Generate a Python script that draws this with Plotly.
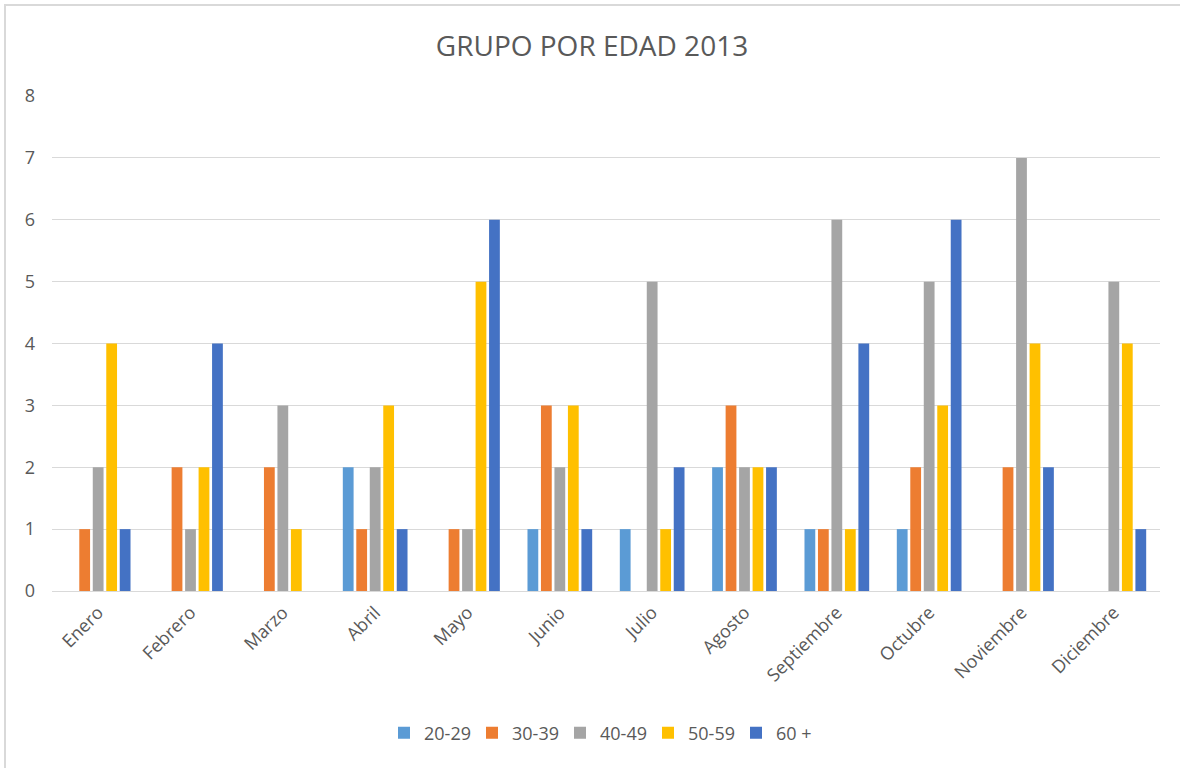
import plotly.graph_objects as go

months = ["Enero", "Febrero", "Marzo", "Abril", "Mayo", "Junio", "Julio",
          "Agosto", "Septiembre", "Octubre", "Noviembre", "Diciembre"]
g20_29 = [0, 0, 0, 2, 0, 1, 1, 2, 1, 1, 0, 0]
g30_39 = [1, 2, 2, 1, 1, 3, 0, 3, 1, 2, 2, 0]
g40_49 = [2, 1, 3, 2, 1, 2, 5, 2, 6, 5, 7, 5]
g50_59 = [4, 2, 1, 3, 5, 3, 1, 2, 1, 3, 4, 4]
g60_plus = [1, 4, 0, 1, 6, 1, 2, 2, 4, 6, 2, 1]
y_ticks = [0, 1, 2, 3, 4, 5, 6, 7, 8]

series = [
    ("20-29", g20_29, "#5B9BD5"),
    ("30-39", g30_39, "#ED7D31"),
    ("40-49", g40_49, "#A5A5A5"),
    ("50-59", g50_59, "#FFC000"),
    ("60 +", g60_plus, "#4472C4"),
]

fig = go.Figure()
for name, vals, color in series:
    fig.add_trace(go.Bar(x=months, y=vals, name=name, marker_color=color,
                         marker_line_width=0))

font_family = "Open Sans, Liberation Sans, sans-serif"
L, R, T, B = 52, 20, 96, 177
W, H = 1180, 768
pw = W - L - R
ph = H - T - B

fig.update_layout(
    width=W, height=H,
    margin=dict(l=L, r=R, t=T, b=B),
    paper_bgcolor="white", plot_bgcolor="white",
    barmode="group", bargap=0.27, bargroupgap=0.2,
    title=dict(text="GRUPO POR EDAD 2013", x=592 / W, xref="container",
               xanchor="center", y=1 - 46 / H, yref="container", yanchor="middle",
               font=dict(family=font_family, size=28, color="#595959")),
    legend=dict(orientation="h", x=(604 - L) / pw, xanchor="center",
                y=-(733 - (T + ph)) / ph, yanchor="middle",
                font=dict(family=font_family, size=18, color="#595959"),
                traceorder="normal", itemwidth=30,
                entrywidth=43, entrywidthmode="pixels"),
    font=dict(family=font_family, color="#595959"),
    showlegend=True,
)
fig.update_xaxes(tickangle=-45, tickfont=dict(size=18, color="#595959"),
                 showline=True, linecolor="#D9D9D9", linewidth=1,
                 showgrid=False, ticks="", ticklabelstandoff=3)
fig.update_yaxes(range=[0, 8], tickvals=y_ticks, showgrid=True, gridcolor="#D9D9D9",
                 gridwidth=1, zeroline=False, showline=False, ticks="",
                 tickfont=dict(size=18, color="#595959"), ticklabelstandoff=16)

# outer chart border
fig.add_shape(type="rect", xref="paper", yref="paper",
              x0=(5 - L) / pw, x1=(1185 - L) / pw,
              y0=-(775 - (T + ph)) / ph, y1=((T + ph) - 5) / ph,
              line=dict(color="#D9D9D9", width=2), fillcolor="rgba(0,0,0,0)",
              layer="below")

fig.write_html("out.html", config={"displayModeBar": False},
               post_script="document.body.style.margin='0';")
